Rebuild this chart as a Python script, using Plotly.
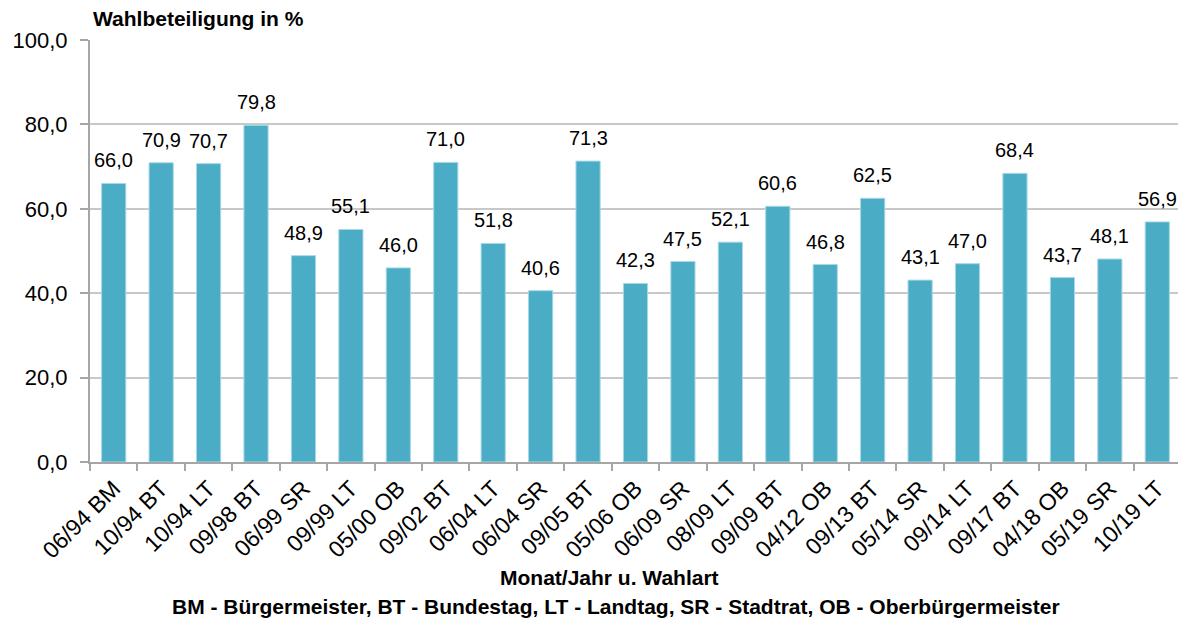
import plotly.graph_objects as go

categories = ["06/94 BM", "10/94 BT", "10/94 LT", "09/98 BT", "06/99 SR", "09/99 LT",
              "05/00 OB", "09/02 BT", "06/04 LT", "06/04 SR", "09/05 BT", "05/06 OB",
              "06/09 SR", "08/09 LT", "09/09 BT", "04/12 OB", "09/13 BT", "05/14 SR",
              "09/14 LT", "09/17 BT", "04/18 OB", "05/19 SR", "10/19 LT"]
values = [66.0, 70.9, 70.7, 79.8, 48.9, 55.1, 46.0, 71.0, 51.8, 40.6, 71.3, 42.3,
          47.5, 52.1, 60.6, 46.8, 62.5, 43.1, 47.0, 68.4, 43.7, 48.1, 56.9]
ytick_vals = [0, 20, 40, 60, 80, 100]
ytick_text = ["0,0", "20,0", "40,0", "60,0", "80,0", "100,0"]

FONT = "Liberation Sans, Arial, sans-serif"

fig = go.Figure(go.Bar(
    x=categories, y=values,
    marker=dict(color="#4BACC6", line=dict(color="#A8D8E6", width=1)),
))

# value labels above bars
for c, v in zip(categories, values):
    fig.add_annotation(x=c, y=v, text=f"{v:.1f}".replace(".", ","),
                       xref="x", yref="y", xanchor="center", yanchor="bottom",
                       yshift=10, showarrow=False,
                       font=dict(family=FONT, size=20, color="#000000"))

# page body has an 8px margin, so the figure is sized to fit inside the window
fig.update_layout(
    width=1178, height=612,
    margin=dict(l=82, r=5, t=32, b=158, autoexpand=False),
    plot_bgcolor="white", paper_bgcolor="white",
    bargap=0.49, showlegend=False,
    font=dict(family=FONT, size=20, color="#000000"),
)
fig.update_xaxes(
    type="category", tickangle=-45, ticks="outside", tickson="boundaries",
    ticklen=7, tickcolor="#A6A6A6", tickwidth=2,
    showline=True, linecolor="#A6A6A6", linewidth=2,
    tickfont=dict(family=FONT, size=23, color="#000000"),
    ticklabelstandoff=2,
    showgrid=False, automargin=False,
)
fig.update_yaxes(
    range=[0, 100], tickvals=ytick_vals, ticktext=ytick_text,
    ticks="outside", ticklen=8, tickcolor="#A6A6A6", tickwidth=2,
    showline=True, linecolor="#A6A6A6", linewidth=2,
    showgrid=True, gridcolor="#C8C8C8", gridwidth=1.5,
    tickfont=dict(family=FONT, size=22, color="#000000"),
    ticklabelstandoff=8,
    zeroline=False, automargin=False,
)

fig.add_annotation(text="<b>Wahlbeteiligung in %</b>", xref="paper", yref="paper",
                   x=0.0, y=1.0, xanchor="left", yanchor="bottom", yshift=8, xshift=1,
                   showarrow=False, font=dict(family=FONT, size=21, color="#000000"))
fig.add_annotation(text="<b>Monat/Jahr u. Wahlart</b>", xref="paper", yref="paper",
                   x=0.4766, y=0, xanchor="center", yanchor="middle", yshift=-115,
                   showarrow=False, font=dict(family=FONT, size=21, color="#000000"))
fig.add_annotation(text="<b>BM - Bürgermeister, BT - Bundestag, LT - Landtag, SR - Stadtrat, OB - Oberbürgermeister</b>",
                   xref="paper", yref="paper", x=0.4817, y=0, xanchor="center", yanchor="middle",
                   yshift=-144, showarrow=False, font=dict(family=FONT, size=21, color="#000000"))

fig.write_html("out.html")
